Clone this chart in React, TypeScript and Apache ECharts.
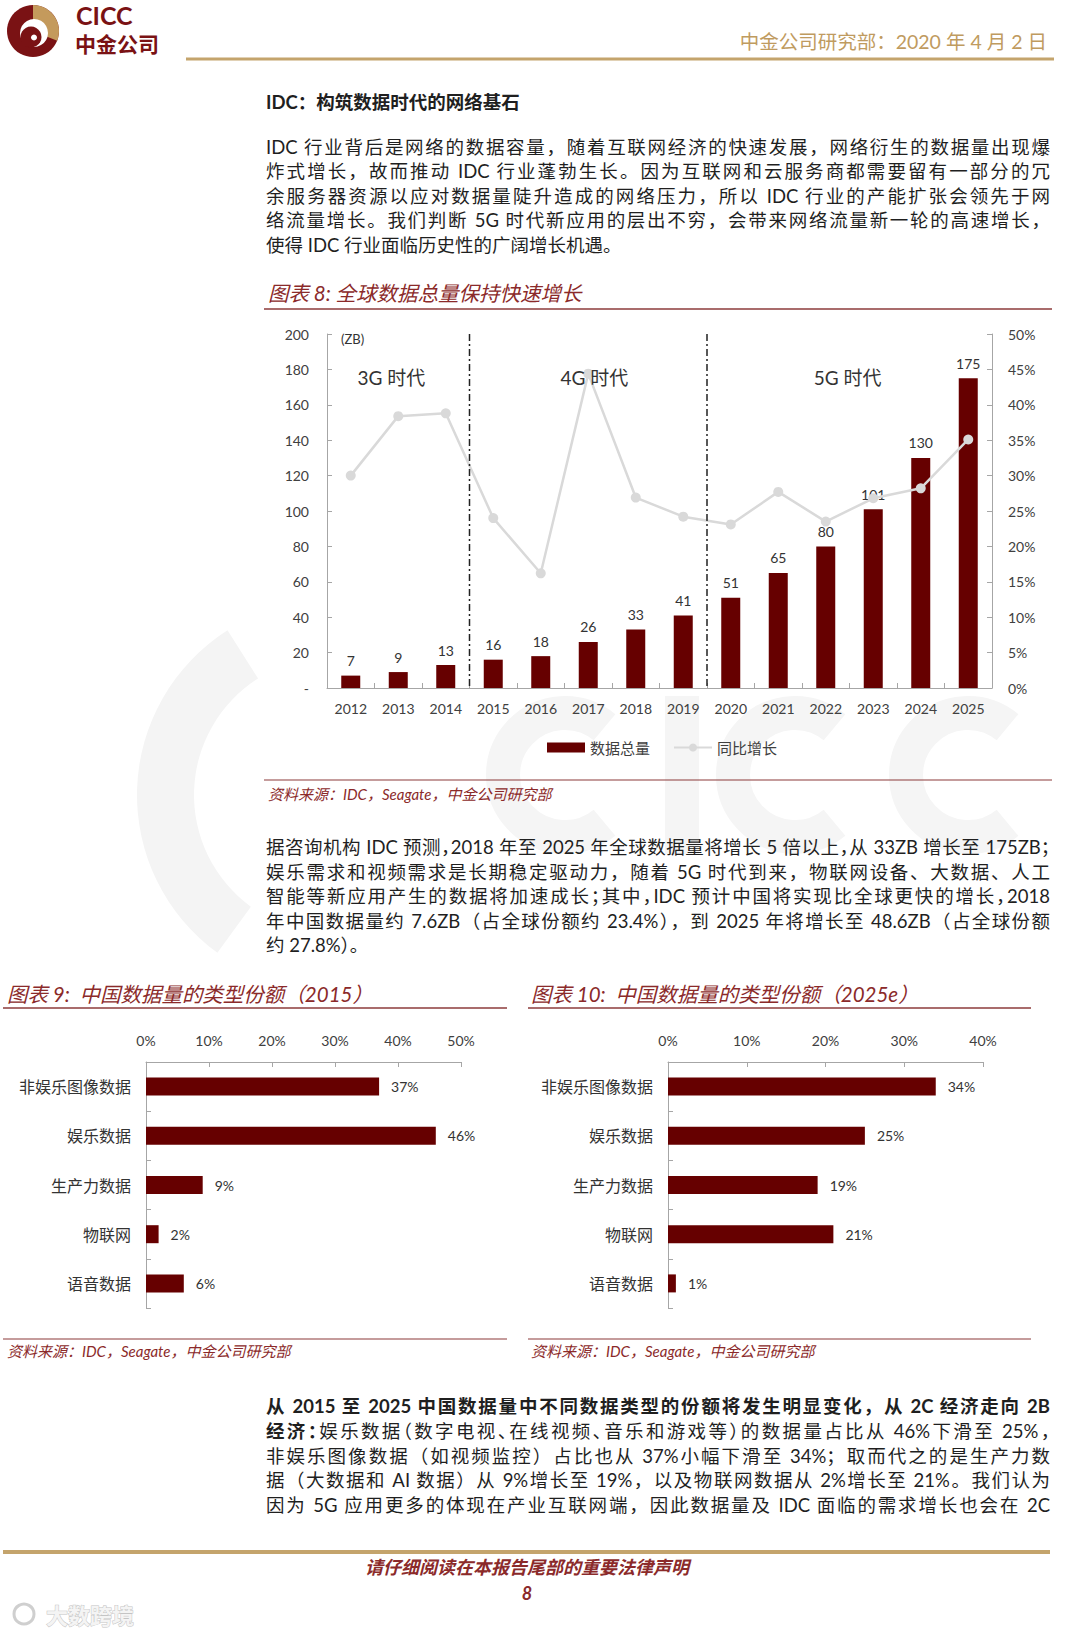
import React, { useEffect, useRef } from "react";
import * as echarts from "echarts";

// ---------- data ----------
const years = ["2012", "2013", "2014", "2015", "2016", "2017", "2018", "2019", "2020", "2021", "2022", "2023", "2024", "2025"];
const dataTotal = [7, 9, 13, 16, 18, 26, 33, 41, 51, 65, 80, 101, 130, 175];
const growthPct = [30.0, 38.4, 38.8, 24.0, 16.2, 44.4, 26.9, 24.2, 23.1, 27.7, 23.5, 26.8, 28.2, 35.1];
const eraNames = ["3G 时代", "4G 时代", "5G 时代"];
const eraRanges = [[0, 2], [3, 7], [8, 13]];
const typeCats = ["非娱乐图像数据", "娱乐数据", "生产力数据", "物联网", "语音数据"];
const share2015 = [37, 46, 9, 2, 6];
const share2025 = [34, 25, 19, 21, 1];

const para1 = [
  "IDC 行业背后是网络的数据容量，随着互联网经济的快速发展，网络衍生的数据量出现爆",
  "炸式增长，故而推动 IDC 行业蓬勃生长。因为互联网和云服务商都需要留有一部分的冗",
  "余服务器资源以应对数据量陡升造成的网络压力，所以 IDC 行业的产能扩张会领先于网",
  "络流量增长。我们判断 5G 时代新应用的层出不穷，会带来网络流量新一轮的高速增长，",
  "使得 IDC 行业面临历史性的广阔增长机遇。",
];
const para2 = [
  "据咨询机构 IDC 预测，2018 年至 2025 年全球数据量将增长 5 倍以上，从 33ZB 增长至 175ZB；",
  "娱乐需求和视频需求是长期稳定驱动力，随着 5G 时代到来，物联网设备、大数据、人工",
  "智能等新应用产生的数据将加速成长；其中，IDC 预计中国将实现比全球更快的增长，2018",
  "年中国数据量约 7.6ZB（占全球份额约 23.4%），到 2025 年将增长至 48.6ZB（占全球份额",
  "约 27.8%）。",
];
const para3Bold1 = "从 2015 至 2025 中国数据量中不同数据类型的份额将发生明显变化，从 2C 经济走向 2B";
const para3Bold2 = "经济：";
const para3 = [
  "娱乐数据（数字电视、在线视频、音乐和游戏等）的数据量占比从 46%下滑至 25%，",
  "非娱乐图像数据（如视频监控）占比也从 37%小幅下滑至 34%；取而代之的是生产力数",
  "据（大数据和 AI 数据）从 9%增长至 19%，以及物联网数据从 2%增长至 21%。我们认为",
  "因为 5G 应用更多的体现在产业互联网端，因此数据量及 IDC 面临的需求增长也会在 2C",
];

// ---------- styles ----------
const FONT = 'Lato, "Noto Sans CJK SC", sans-serif';
const RED = "#660000";
const MAROON = "#8B2A2A";
const GOLD = "#BF9B5F";
const AX = "#A6A6A6";

const G0 = { left: 327, top: 334, width: 665, height: 354 };
const G1 = { left: 146, top: 1062, width: 315, height: 246 };
const G2 = { left: 668, top: 1062, width: 315, height: 246 };

function txt(text: string, x: number, y: number, o: any = {}) {
  return {
    type: "text",
    x,
    y,
    z: 100,
    style: {
      text,
      fill: o.fill || "#333",
      fontSize: o.fontSize || 14,
      fontFamily: FONT,
      fontWeight: o.fontWeight || "normal",
      fontStyle: o.fontStyle || "normal",
      align: o.align || "left",
      textAlign: o.align || "left",
      verticalAlign: "middle",
      textVerticalAlign: "middle",
      stroke: o.stroke,
      lineWidth: o.lineWidth,
    },
  };
}
function hline(x1: number, x2: number, y: number, color: string, w: number) {
  return { type: "line", z: 100, shape: { x1, y1: y, x2, y2: y }, style: { stroke: color, lineWidth: w } };
}

function buildGraphic() {
  const g: any[] = [];
  // faint background watermark (shapes only)
  const WM = "#F5F5F5";
  g.push({ type: "sector", z: -10, shape: { cx: 332, cy: 795, r: 195, r0: 138, startAngle: Math.PI * 0.7, endAngle: Math.PI * 1.32 }, style: { fill: "#F4F4F4" } });
  const cArc = (cx: number) => ({ type: "arc", z: -10, shape: { cx, cy: 775, r: 62, startAngle: Math.PI * 0.28, endAngle: Math.PI * 1.72, clockwise: true }, style: { stroke: WM, lineWidth: 34, fill: "none" } });
  g.push(cArc(565));
  g.push({ type: "rect", z: -10, shape: { x: 665, y: 696, width: 34, height: 158 }, style: { fill: WM } });
  g.push(cArc(795));
  g.push(cArc(968));

  // logo
  g.push({ type: "circle", z: 100, shape: { cx: 33, cy: 31, r: 26 }, style: { fill: "#7A1214" } });
  g.push({ type: "sector", z: 101, shape: { cx: 33, cy: 31, r: 26, r0: 0, startAngle: -Math.PI / 2, endAngle: 0.38 }, style: { fill: "#C49A5C" } });
  g.push({ type: "circle", z: 102, shape: { cx: 34, cy: 33, r: 14 }, style: { fill: "#FFFFFF" } });
  g.push({ type: "circle", z: 103, shape: { cx: 31, cy: 37, r: 10.5 }, style: { fill: "#7A1214" } });
  g.push({ type: "circle", z: 104, shape: { cx: 34, cy: 37.5, r: 3 }, style: { fill: "#FFFFFF" } });
  g.push(txt("CICC", 76, 15, { fill: "#7A1214", fontSize: 25, fontWeight: "bold" }));
  g.push(txt("中金公司", 75, 43, { fill: "#7A1214", fontSize: 21, fontWeight: "bold" }));

  // header
  g.push(txt("中金公司研究部：2020 年 4 月 2 日", 1047, 41, { fill: GOLD, fontSize: 19.5, align: "right" }));
  g.push(hline(186, 1054, 59, "#C4A46C", 3));

  // chart 8 frame
  g.push(txt("图表 8: 全球数据总量保持快速增长", 268, 293, { fill: MAROON, fontSize: 20.5, fontStyle: "italic" }));
  g.push(hline(264, 1052, 309, "#8C3B3B", 1.5));
  g.push(txt("(ZB)", 341, 339, { fill: "#333", fontSize: 13 }));
  const step = G0.width / years.length;
  const eraShift = [-7, 6, -2];
  eraNames.forEach((n, i) => {
    const [a, b] = eraRanges[i];
    const cx = G0.left + ((a + b + 1) / 2) * step + eraShift[i];
    g.push(txt(n, cx, 377, { fill: "#333", fontSize: 19, align: "center" }));
  });
  eraRanges.slice(1).forEach((r) => {
    const x = G0.left + r[0] * step;
    g.push({ type: "line", z: 50, shape: { x1: x, y1: G0.top, x2: x, y2: G0.top + G0.height }, style: { stroke: "#222", lineWidth: 1.5, lineDash: [7, 3, 2, 3] } });
  });
  g.push(hline(264, 1052, 780, "#8C3B3B", 1.2));
  g.push(txt("资料来源：IDC，Seagate，中金公司研究部", 268, 794, { fill: MAROON, fontSize: 15, fontStyle: "italic" }));

  // chart 9 / 10 frames
  g.push(txt("图表 9:  中国数据量的类型份额（2015）", 7, 994, { fill: MAROON, fontSize: 20.5, fontStyle: "italic" }));
  g.push(hline(3, 507, 1008, "#8C3B3B", 1.5));
  g.push(hline(3, 507, 1339, "#8C3B3B", 1.2));
  g.push(txt("资料来源：IDC，Seagate，中金公司研究部", 7, 1351, { fill: MAROON, fontSize: 15, fontStyle: "italic" }));
  g.push(txt("图表 10:  中国数据量的类型份额（2025e）", 531, 994, { fill: MAROON, fontSize: 20.5, fontStyle: "italic" }));
  g.push(hline(528, 1031, 1008, "#8C3B3B", 1.5));
  g.push(hline(528, 1031, 1339, "#8C3B3B", 1.2));
  g.push(txt("资料来源：IDC，Seagate，中金公司研究部", 531, 1351, { fill: MAROON, fontSize: 15, fontStyle: "italic" }));

  // footer
  g.push(hline(3, 1050, 1552, "#C4A46C", 4));
  g.push(txt("请仔细阅读在本报告尾部的重要法律声明", 527, 1567, { fill: MAROON, fontSize: 18, fontStyle: "italic", fontWeight: "bold", align: "center" }));
  g.push(txt("8", 527, 1593, { fill: MAROON, fontSize: 18, fontStyle: "italic", fontWeight: "bold", align: "center" }));
  g.push({ type: "circle", z: 100, shape: { cx: 24, cy: 1614, r: 10 }, style: { fill: "none", stroke: "#CFCFCF", lineWidth: 3 } });
  g.push(txt("大数跨境", 46, 1615, { fill: "#F4F4F4", stroke: "#C4C4C4", lineWidth: 1, fontSize: 22, fontWeight: "bold" }));
  return g;
}

function buildOption() {
  const axisCommon = {
    axisLine: { show: true, lineStyle: { color: AX } },
    axisTick: { show: true, inside: true, length: 5, lineStyle: { color: AX } },
    splitLine: { show: false },
  };
  return {
    animation: false,
    textStyle: { fontFamily: FONT },
    legend: {
      left: 542,
      top: 735,
      itemWidth: 38,
      itemHeight: 10,
      itemGap: 23,
      textStyle: { fontSize: 15, color: "#404040", fontFamily: FONT },
      data: [{ name: "数据总量", icon: "rect" }, { name: "同比增长" }],
    },
    grid: [G0, G1, G2],
    xAxis: [
      { type: "category", gridIndex: 0, data: years, ...axisCommon, axisLabel: { fontSize: 14, color: "#404040", margin: 13, interval: 0 } },
      { type: "value", gridIndex: 1, position: "top", min: 0, max: 50, interval: 10, ...axisCommon, axisLabel: { formatter: "{value}%", fontSize: 14, color: "#404040", margin: 15 } },
      { type: "value", gridIndex: 2, position: "top", min: 0, max: 40, interval: 10, ...axisCommon, axisLabel: { formatter: "{value}%", fontSize: 14, color: "#404040", margin: 15 } },
    ],
    yAxis: [
      { type: "value", gridIndex: 0, min: 0, max: 200, interval: 20, ...axisCommon, axisLabel: { formatter: (v: number) => (v === 0 ? "-" : String(v)), fontSize: 14, color: "#404040", margin: 18 } },
      { type: "value", gridIndex: 0, position: "right", min: 0, max: 50, interval: 5, ...axisCommon, axisLabel: { formatter: "{value}%", fontSize: 14, color: "#404040", margin: 16 } },
      { type: "category", gridIndex: 1, inverse: true, data: typeCats, ...axisCommon, axisLabel: { fontSize: 16, color: "#333", margin: 15 } },
      { type: "category", gridIndex: 2, inverse: true, data: typeCats, ...axisCommon, axisLabel: { fontSize: 16, color: "#333", margin: 15 } },
    ],
    series: [
      {
        name: "数据总量", type: "bar", xAxisIndex: 0, yAxisIndex: 0, data: dataTotal, barWidth: 19,
        itemStyle: { color: RED },
        label: { show: true, position: "top", distance: 8, fontSize: 14, color: "#333" },
      },
      {
        name: "同比增长", type: "line", xAxisIndex: 0, yAxisIndex: 1, data: growthPct,
        symbol: "circle", symbolSize: 10, lineStyle: { color: "#D9D9D9", width: 2.5 }, itemStyle: { color: "#D9D9D9" }, z: 5,
      },
      {
        type: "bar", xAxisIndex: 1, yAxisIndex: 2, data: share2015, barWidth: 18, itemStyle: { color: RED },
        label: { show: true, position: "right", distance: 12, formatter: "{c}%", fontSize: 14, color: "#333" },
      },
      {
        type: "bar", xAxisIndex: 2, yAxisIndex: 3, data: share2025, barWidth: 18, itemStyle: { color: RED },
        label: { show: true, position: "right", distance: 12, formatter: "{c}%", fontSize: 14, color: "#333" },
      },
    ],
    graphic: buildGraphic(),
  };
}

const lineBase: React.CSSProperties = {
  position: "absolute",
  left: 266,
  width: 784,
  height: 24,
  lineHeight: "24px",
  fontSize: 18.5,
  fontFamily: FONT,
  color: "#1f1f1f",
  textAlign: "justify",
};

function TextLine({ top, last, bold, halt, children }: any) {
  return (
    <div
      style={{
        ...lineBase,
        top: top - 12,
        textAlignLast: last ? "left" : "justify",
        fontWeight: bold ? 700 : 400,
        fontFeatureSettings: halt ? '"halt"' : "normal",
      }}
    >
      {children}
    </div>
  );
}

export default function App() {
  const ref = useRef<HTMLDivElement>(null);
  useEffect(() => {
    const chart = echarts.init(ref.current!, null, { renderer: "svg" });
    chart.setOption(buildOption() as any);
    return () => chart.dispose();
  }, []);
  return (
    <div style={{ position: "absolute", left: 0, top: 0, width: 1080, height: 1634, background: "#fff", overflow: "hidden" }}>
      <div ref={ref} style={{ position: "absolute", left: 0, top: 0, width: 1080, height: 1634 }} />
      <TextLine top={102} last bold>
        IDC：构筑数据时代的网络基石
      </TextLine>
      {para1.map((t, i) => (
        <TextLine key={"a" + i} top={146.5 + i * 24.5} last={i === para1.length - 1}>
          {t}
        </TextLine>
      ))}
      {para2.map((t, i) => (
        <TextLine key={"b" + i} top={847 + i * 24.5} last={i === para2.length - 1} halt={i === 0 || i === 2}>
          {t}
        </TextLine>
      ))}
      <TextLine top={1406} bold>
        {para3Bold1}
      </TextLine>
      {para3.map((t, i) => (
        <TextLine key={"c" + i} top={1430.8 + i * 24.7} halt={i === 0}>
          {i === 0 ? <b>{para3Bold2}</b> : null}
          {t}
        </TextLine>
      ))}
    </div>
  );
}
